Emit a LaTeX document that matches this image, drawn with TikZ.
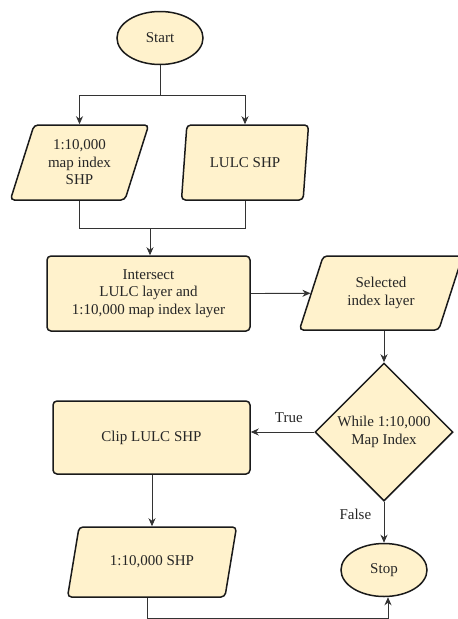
\documentclass[tikz,border=0pt]{standalone}
\usepackage{fontspec}
\setmainfont{Liberation Serif}
\usetikzlibrary{shapes.geometric,arrows.meta}
\definecolor{fillc}{HTML}{FFF2CC}
\definecolor{linec}{HTML}{1A1A1A}
\definecolor{conn}{HTML}{333333}
\definecolor{txt}{HTML}{262626}
\newcommand{\dgfont}{\fontsize{15}{17.5}\selectfont}
\begin{document}
\begin{tikzpicture}[x=1pt,y=-1pt,
 box/.style={draw=linec, line width=1.5pt, fill=fillc, font=\dgfont, align=center, text=txt},
 term/.style={box, ellipse, minimum width=86pt, minimum height=53pt, inner sep=0pt},
 proc/.style={box, rectangle, rounded corners=4pt},
 io/.style={box, trapezium, trapezium stretches=true, rounded corners=4pt, inner sep=0pt},
 dec/.style={box, diamond, inner sep=0pt},
 arr/.style={draw=conn, line width=0.9pt, -{Stealth[length=8pt,width=7pt,inset=2.5pt]}},
 con/.style={draw=conn, line width=0.9pt},
 lbl/.style={font=\dgfont, text=txt}]
\useasboundingbox (0,0) rectangle (458,619);
\node[term] (start) at (160,38) {Start};
\node[io, trapezium left angle=70, trapezium right angle=110, minimum width=139pt, minimum height=75pt] (p1) at (79.5,162.5) {1:10,000\\map index\\SHP};
\node[io, trapezium left angle=72, trapezium right angle=108, minimum width=128pt, minimum height=75pt] (p2) at (245,162.5) {LULC SHP};
\node[proc, minimum width=203pt, minimum height=75pt] (inter) at (148.5,293.5) {Intersect\\LULC layer and\\1:10,000 map index layer};
\node[io, trapezium left angle=66, trapezium right angle=114, minimum width=164pt, minimum height=74pt] (sel) at (381,293) {Selected\\index layer};
\node[dec, minimum width=138pt, minimum height=138pt] (dia) at (384,432) {While 1:10,000\\Map Index};
\node[proc, minimum width=197pt, minimum height=73pt] (clip) at (151.5,437.5) {Clip LULC SHP};
\node[io, trapezium left angle=61.5, trapezium right angle=118.5, minimum width=170pt, minimum height=70pt] (shp) at (152,562) {1:10,000 SHP};
\node[term] (stop) at (384,570) {Stop};
\coordinate (split) at (160,95);
\coordinate (merge) at (150,228);
\draw[con] (start.south) -- (split);
\draw[arr] (split) -| (p1.north);
\draw[arr] (split) -| (p2.north);
\draw[con] (p1.south) |- (merge);
\draw[con] (p2.south) |- (merge);
\draw[arr] (merge) -- (merge |- inter.north);
\draw[arr] (inter.east) -- (sel);
\draw[arr] (dia.north |- sel.south) -- (dia.north);
\draw[arr] (dia.west) -- node[lbl, above=6pt, pos=0.4]{True} (dia.west -| clip.east);
\draw[arr] (clip.south -| shp.north) -- (shp.north);
\draw[arr] (dia.south) -- node[lbl, left=9pt, pos=0.3]{False} (stop.north);
\draw[arr] ([xshift=-5pt]shp.south) -- ++(0,21) -| ([xshift=4pt]stop.south);
\end{tikzpicture}
\end{document}
